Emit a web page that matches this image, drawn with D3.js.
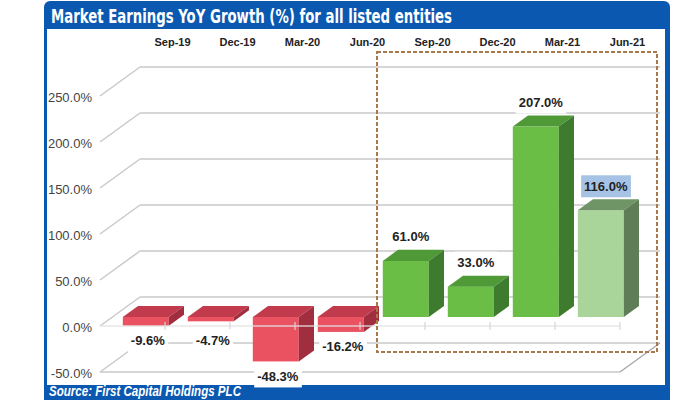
<!DOCTYPE html>
<html><head><meta charset="utf-8">
<script src="https://cdn.jsdelivr.net/npm/d3@7"></script>
<style>html,body{margin:0;padding:0;background:#fff;}svg{display:block;}</style>
</head><body>
<svg id="chart" width="700" height="400"></svg>
<script>
const title = "Market Earnings YoY Growth (%) for all listed entities";
const source = "Source: First Capital Holdings PLC";
const categories = ["Sep-19","Dec-19","Mar-20","Jun-20","Sep-20","Dec-20","Mar-21","Jun-21"];
const values = [-9.6, -4.7, -48.3, -16.2, 61.0, 33.0, 207.0, 116.0];
const estimated = [false, false, false, false, false, false, false, true];
const yTicks = [-50, 0, 50, 100, 150, 200, 250];

const svg = d3.select("#chart");
const pct = v => d3.format(".1f")(v).replace("\u2212", "-") + "%";

// frame
svg.append("rect").attr("x",44).attr("y",1).attr("width",626).attr("height",420).attr("rx",6).attr("fill","#0a58b0");
svg.append("rect").attr("x",47).attr("y",29).attr("width",618).attr("height",356).attr("fill","#ffffff");
svg.append("text").attr("x",51).attr("y",23).text(title)
  .attr("fill","#fff").attr("font-family","'Liberation Sans Narrow','DejaVu Sans Condensed','Liberation Sans',Arial,sans-serif")
  .attr("font-weight","bold").attr("font-size",20).attr("textLength",401).attr("lengthAdjust","spacingAndGlyphs");
svg.append("text").attr("x",49).attr("y",396).text(source)
  .attr("fill","#fff").attr("font-family","'Liberation Sans',Arial,sans-serif")
  .attr("font-weight","bold").attr("font-style","italic").attr("font-size",14)
  .attr("textLength",192).attr("lengthAdjust","spacingAndGlyphs");

// 3D projection
const DX = 40, DY = -29;          // full depth offset
const F1 = 0.31, F2 = 0.69;       // bar depth range
const x = d3.scaleBand().domain(categories).range([100, 620]).padding(0);
const y = d3.scaleLinear().domain([-50, 250]).range([372, 96]);
const grid = "#c9c9c9";
const g = svg.append("g");

// back wall & side wall gridlines
yTicks.forEach(t => {
  g.append("line").attr("x1",100+DX).attr("x2",620+DX).attr("y1",y(t)+DY).attr("y2",y(t)+DY)
    .attr("stroke",grid).attr("stroke-width",1.5);
  g.append("line").attr("x1",100).attr("y1",y(t)).attr("x2",100+DX).attr("y2",y(t)+DY)
    .attr("stroke",grid).attr("stroke-width",1.5);
});
// floor front edge
g.append("line").attr("x1",100).attr("x2",620).attr("y1",y(-50)).attr("y2",y(-50)).attr("stroke",grid).attr("stroke-width",1.5);
g.append("line").attr("x1",620).attr("y1",y(-50)).attr("x2",620+DX).attr("y2",y(-50)+DY).attr("stroke","#aaa").attr("stroke-width",1.5);

// y axis labels
svg.append("g").selectAll("text").data(yTicks).join("text")
  .attr("x",92).attr("y",t=>y(t)+6).attr("text-anchor","end")
  .attr("font-family","'Liberation Sans',Arial,sans-serif").attr("font-size",13).attr("fill","#444")
  .text(t=>pct(t));

// category labels (top)
svg.append("g").selectAll("text").data(categories).join("text")
  .attr("x",c=>x(c)+x.bandwidth()/2+DX).attr("y",46).attr("text-anchor","middle")
  .attr("font-family","'Liberation Sans',Arial,sans-serif").attr("font-weight","bold").attr("font-size",11).attr("fill","#222")
  .text(c=>c);

// bars
const bw = 46;
const bdx = (F2-F1)*DX, bdy = (F2-F1)*DY;
const colors = (v,i) => estimated[i] ? {front:"#a9d59b", top:"#6f9566", side:"#5f7d57"}
  : v >= 0 ? {front:"#6abd45", top:"#4f9a37", side:"#3e7b2e"} : {front:"#ea5262", top:"#c23b4c", side:"#a02e3e"};
const bars = categories.map((c,i) => {
  const v = values[i];
  const x0 = x(c) + x.bandwidth()*0.16 + F1*DX;
  const yT = y(Math.max(v,0)) + F1*DY;
  const yB = y(Math.min(v,0)) + F1*DY;
  return {c, v, i, x0, yT, yB, col: colors(v,i)};
});
const bg = g.append("g");
bars.forEach(b => {
  const gb = bg.append("g");
  gb.append("rect").attr("x",b.x0).attr("y",b.yT).attr("width",bw).attr("height",Math.max(b.yB-b.yT,0.5)).attr("fill",b.col.front);
  gb.append("path").attr("d",`M${b.x0},${b.yT}L${b.x0+bw},${b.yT}L${b.x0+bw+bdx},${b.yT+bdy}L${b.x0+bdx},${b.yT+bdy}Z`).attr("fill",b.col.top);
  gb.append("path").attr("d",`M${b.x0+bw},${b.yT}L${b.x0+bw+bdx},${b.yT+bdy}L${b.x0+bw+bdx},${b.yB+bdy}L${b.x0+bw},${b.yB}Z`).attr("fill",b.col.side);
});

// front zero axis with ticks
g.append("line").attr("x1",100).attr("x2",620).attr("y1",y(0)).attr("y2",y(0)).attr("stroke","#e3e3e3").attr("stroke-width",1.5).attr("opacity",0.85);
g.selectAll(".tk").data(categories.slice(1).concat(["end"])).join("line")
  .attr("x1",(c,i)=>100+(i+1)*x.step()).attr("x2",(c,i)=>100+(i+1)*x.step())
  .attr("y1",y(0)-4).attr("y2",y(0)+4).attr("stroke","#d6d6d6").attr("stroke-width",1.2);

// highlight dashed box
svg.append("rect").attr("x",377).attr("y",52).attr("width",280).attr("height",300)
  .attr("fill","none").attr("stroke","#a8794a").attr("stroke-width",2).attr("stroke-dasharray","4,2");

// value labels
const lg = svg.append("g").attr("font-family","'Liberation Sans',Arial,sans-serif").attr("font-weight","bold").attr("font-size",13);
bars.forEach(b => {
  const cx = b.x0 + bw/2 + (b.v >= 0 ? 5 : 2);
  const cy = b.v >= 0 ? b.yT + bdy - 13 : Math.max(b.yB, y(0)-1) + 15;
  const t = lg.append("text").attr("x",cx).attr("y",cy+4.5).attr("text-anchor","middle").attr("fill","#222").text(pct(b.v));
  const bb = t.node().getBBox();
  lg.insert("rect","text").attr("x",bb.x-3).attr("y",cy-11).attr("width",bb.width+6).attr("height",22)
    .attr("fill", estimated[b.i] ? "#a6c3e6" : "#ffffff");
});
</script>
</body></html>
